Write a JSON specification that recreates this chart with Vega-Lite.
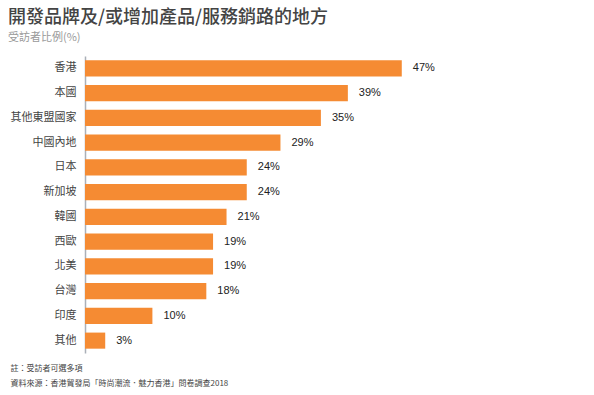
{
  "$schema": "https://vega.github.io/schema/vega-lite/v6.json",
  "autosize": "none",
  "width": 337,
  "height": 297,
  "padding": {"left": 85, "top": 56, "right": 172, "bottom": 42},
  "background": "white",
  "title": {
    "text": "開發品牌及/或增加產品/服務銷路的地方",
    "subtitle": "受訪者比例(%)",
    "anchor": "start",
    "frame": "group",
    "dx": -77,
    "offset": 13,
    "font": "Noto Sans CJK TC",
    "fontSize": 18,
    "fontWeight": 500,
    "color": "#444444",
    "subtitleFont": "Noto Sans CJK TC",
    "subtitleFontSize": 11,
    "subtitleColor": "#999999",
    "subtitlePadding": 5
  },
  "data": {
    "values": [
      {"region": "香港", "share": 0.47},
      {"region": "本國", "share": 0.39},
      {"region": "其他東盟國家", "share": 0.35},
      {"region": "中國內地", "share": 0.29},
      {"region": "日本", "share": 0.24},
      {"region": "新加坡", "share": 0.24},
      {"region": "韓國", "share": 0.21},
      {"region": "西歐", "share": 0.19},
      {"region": "北美", "share": 0.19},
      {"region": "台灣", "share": 0.18},
      {"region": "印度", "share": 0.10},
      {"region": "其他", "share": 0.03}
    ]
  },
  "encoding": {
    "y": {
      "field": "region",
      "type": "nominal",
      "sort": null,
      "scale": {"paddingInner": 0.35, "paddingOuter": 0.175},
      "axis": {
        "title": null,
        "domain": true,
        "domainColor": "#aab0b8",
        "domainWidth": 1.5,
        "ticks": false,
        "labelPadding": 9,
        "labelFont": "Noto Sans CJK TC",
        "labelFontSize": 11,
        "labelColor": "#444444"
      }
    },
    "x": {
      "field": "share",
      "type": "quantitative",
      "scale": {"domain": [0, 0.5]},
      "axis": {
        "title": ["註：受訪者可選多項", "資料來源：香港貿發局「時尚潮流．魅力香港」問卷調查2018"],
        "domain": false,
        "ticks": false,
        "labels": false,
        "grid": false,
        "titleAnchor": "start",
        "titleAlign": "left",
        "titleBaseline": "top",
        "titleX": -75,
        "titleY": 11,
        "titleFont": "Noto Sans CJK TC",
        "titleFontSize": 8,
        "titleFontWeight": "normal",
        "titleColor": "#444444",
        "titleLineHeight": 15
      }
    }
  },
  "layer": [
    {"mark": {"type": "bar", "color": "#f58b33"}},
    {
      "mark": {"type": "text", "align": "left", "baseline": "middle", "dx": 11, "font": "Liberation Sans", "fontSize": 11, "color": "#222222"},
      "encoding": {"text": {"field": "share", "type": "quantitative", "format": ".0%"}}
    }
  ],
  "config": {"view": {"stroke": null}}
}
